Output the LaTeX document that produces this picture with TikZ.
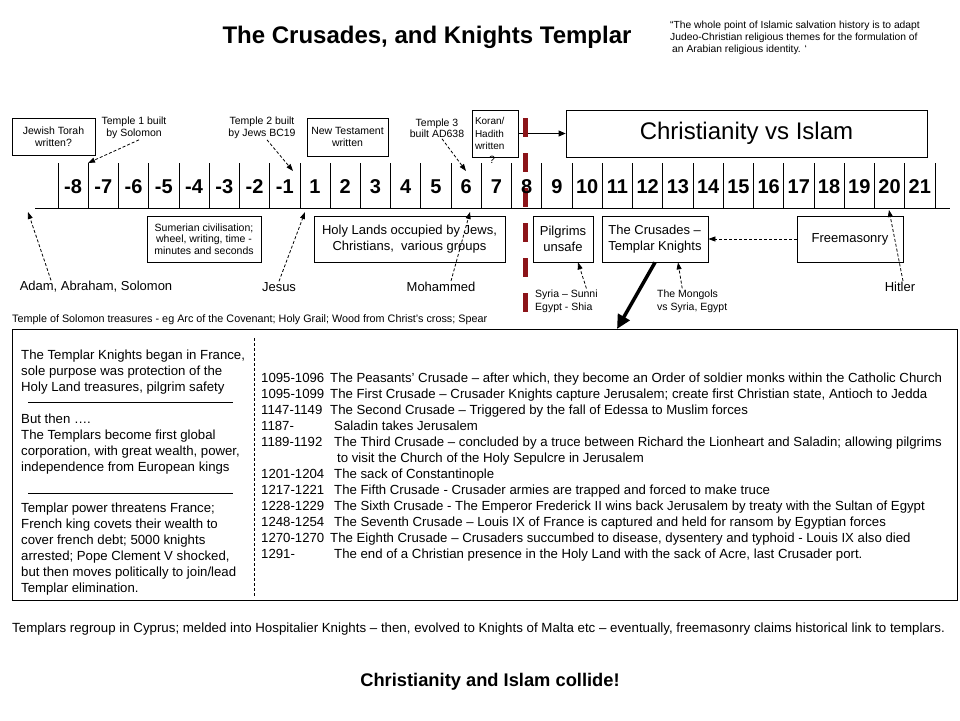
\documentclass[tikz,border=0pt]{standalone}
\usepackage{fontspec}
\setmainfont{Liberation Sans}
\usetikzlibrary{arrows.meta}
\definecolor{divred}{RGB}{140,20,25}
\tikzset{
  box/.style={draw, line width=0.8pt, inner sep=1pt},
  note/.style={font=\fontsize{10.5}{11.5}\selectfont, align=center, inner sep=1pt},
  boxtext/.style={font=\fontsize{13}{15.5}\selectfont},
  who/.style={font=\fontsize{13}{15}\selectfont, inner sep=1pt},
  yearlab/.style={font=\fontsize{20}{22}\selectfont\bfseries, inner sep=0pt},
  body/.style={font=\fontsize{13.2}{16}\selectfont, align=left, anchor=west, inner sep=0pt},
  row/.style={font=\fontsize{13.2}{15}\selectfont, anchor=base west, inner sep=0pt},
  hint/.style={line width=0.8pt, dash pattern=on 3pt off 2pt, -{Triangle[length=7pt,width=5pt]}},
}
\begin{document}
\begin{tikzpicture}[x=1pt,y=-1pt]
	\useasboundingbox (0,0) rectangle (960,720);

	% headings
	\node[font=\fontsize{24}{28}\selectfont\bfseries] (title) at (427,37) {The Crusades, and Knights Templar};
	\node[font=\fontsize{10.3}{12}\selectfont, align=left, anchor=north west, inner sep=0pt] (quote) at (670,21) {“The whole point of Islamic salvation history is to adapt\\Judeo-Christian religious themes for the formulation of\\\hspace{2pt}an Arabian religious identity. ‘};

	% above the time line
	\node[box, note, minimum width=83, minimum height=37] (torah) at (53.5,136.5) {Jewish Torah\\written?};
	\node[note] (temple1) at (134,128) {Temple 1 built\\by Solomon};
	\node[note] (temple2) at (262,128) {Temple 2 built\\by Jews BC19};
	\node[box, note, minimum width=81, minimum height=38] (newtest) at (347.5,137) {New Testament\\written};
	\node[note] (temple3) at (437,128) {Temple 3\\built AD638};
	\node[box, note, font=\fontsize{10}{12.5}\selectfont, align=left, text width=40, minimum width=46, minimum height=47] (koran) at (495,133.5) {Koran/\\Hadith\\written};
	\node[note] (koranq) at (492,160) {?};
	\node[box, font=\fontsize{24}{28}\selectfont, minimum width=361, minimum height=47] (christ) at (746.5,133.5) {Christianity vs Islam};

	\draw[line width=0.8pt, -{Triangle[length=7pt,width=6pt]}] (koran.east) -- (christ.west);
	\draw[divred, line width=5pt, dash pattern=on 19pt off 16pt] (525,118) -- (525,313);

	% time line
	\draw[line width=0.8pt] (35,208) -- (950,208);
	\foreach \k in {0,...,29}
		\draw[line width=0.8pt] (58+30.24*\k,163) -- (58+30.24*\k,208);
	\foreach \lab [count=\i from 0] in {-8,-7,-6,-5,-4,-3,-2,-1,1,2,3,4,5,6,7,8,9,10,11,12,13,14,15,16,17,18,19,20,21}
		\node[yearlab] (yr\i) at (73.1+30.24*\i,187) {\lab};

	\coordinate (t7) at (88,163);
	\coordinate (t2) at (293,171);
	\coordinate (t3) at (466,171);
	\draw[hint] ([xshift=5pt]temple1.south) -- (t7);
	\draw[hint] ([xshift=5pt]temple2.south) -- (t2);
	\draw[hint] ([xshift=5pt]temple3.south) -- (t3);

	% below the time line
	\node[box, note, minimum width=114, minimum height=46] (sumer) at (204,239) {Sumerian civilisation;\\wheel, writing, time -\\minutes and seconds};
	\node[box, boxtext, align=center, minimum width=191, minimum height=46] (holy) at (409.5,239) {Holy Lands occupied by Jews,\\Christians,\ \ various groups};
	\node[box, boxtext, align=center, minimum width=60, minimum height=46] (pilgrims) at (563,239) {Pilgrims\\unsafe};
	\node[box, boxtext, align=left, minimum width=106, minimum height=46] (crusades) at (655,239) {The Crusades –\\Templar Knights};
	\node[box, boxtext, minimum width=106, minimum height=46] (freemason) at (850,239) {Freemasonry};

	\node[who] (adam) at (96,287) {Adam, Abraham, Solomon};
	\node[who] (jesus) at (279,287) {Jesus};
	\node[who] (mohammed) at (441,287) {Mohammed};
	\node[who] (hitler) at (900,287) {Hitler};
	\node[note, font=\fontsize{10.5}{13}\selectfont, align=left, anchor=west] (syria) at (534,301) {Syria – Sunni\\Egypt - Shia};
	\node[note, font=\fontsize{10.5}{13}\selectfont, align=left, anchor=west] (mongols) at (656,301) {The Mongols\\vs Syria, Egypt};
	\node[font=\fontsize{10.8}{12}\selectfont, anchor=west, inner sep=0pt] (treasure) at (12,320) {Temple of Solomon treasures - eg Arc of the Covenant; Holy Grail; Wood from Christ’s cross; Spear};

	\coordinate (adamtip) at (28,212);
	\coordinate (jesustip) at (305,212);
	\coordinate (mohtip) at (470,212);
	\coordinate (hitlertip) at (889,210);
	\coordinate (hit) at (617,329);
	\draw[hint] ([xshift=-45pt]adam.north) -- (adamtip);
	\draw[hint] (jesus.north) -- (jesustip);
	\draw[hint] ([xshift=10pt]mohammed.north) -- (mohtip);
	\draw[hint] ([xshift=3pt]hitler.north) -- (hitlertip);
	\draw[hint] ([xshift=20pt]syria.north) -- ([xshift=15pt]pilgrims.south);
	\draw[hint] ([xshift=-10pt]mongols.north) -- ([xshift=23pt]crusades.south);
	\draw[hint] (freemason.west) -- (crusades.east);
	\draw[line width=3.5pt, -{Triangle[length=14pt,width=13pt]}] (crusades.south) -- (hit);

	% the panel
	\node[draw, line width=0.8pt, minimum width=945, minimum height=271, inner sep=0pt] (panel) at (484.5,464.5) {};
	\draw[dash pattern=on 3pt off 2pt] (254,338) -- (254,597);

	\node[body] (began) at (21,372) {The Templar Knights began in France,\\sole purpose was protection of the\\Holy Land treasures,\ pilgrim safety};
	\draw (28,402) -- (233,402);
	\node[body] (butthen) at (21,444) {But then ….\\The Templars\ become first global\\corporation, with great wealth, power,\\independence from European kings};
	\draw (28,493) -- (233,493);
	\node[body] (threat) at (21,549.5) {Templar power threatens France;\\French king covets their wealth to\\cover french debt; 5000 knights\\arrested; Pope Clement V shocked,\\but then moves politically to join/lead\\Templar elimination.};

	\node[row] (d1) at (261,382.5) {1095-1096};
	\node[row] (e1) at (330,382.5) {The Peasants’ Crusade – after which, they become an Order of soldier monks within the Catholic Church};
	\node[row] (d2) at (261,398.5) {1095-1099};
	\node[row] (e2) at (330,398.5) {The First Crusade – Crusader Knights capture Jerusalem; create first Christian state, Antioch to Jedda};
	\node[row] (d3) at (261,414.5) {1147-1149};
	\node[row] (e3) at (330,414.5) {The Second Crusade – Triggered by the fall of Edessa to Muslim forces};
	\node[row] (d4) at (261,430.5) {1187-};
	\node[row] (e4) at (334,430.5) {Saladin takes Jerusalem};
	\node[row] (d5) at (261,446.5) {1189-1192};
	\node[row] (e5) at (334,446.5) {The Third Crusade – concluded by a truce between Richard the Lionheart and Saladin; allowing pilgrims};
	\node[row] (e5b) at (337,462.5) {to visit the Church of the Holy Sepulcre in Jerusalem};
	\node[row] (d6) at (261,478.5) {1201-1204};
	\node[row] (e6) at (334,478.5) {The sack of Constantinople};
	\node[row] (d7) at (261,494.5) {1217-1221};
	\node[row] (e7) at (334,494.5) {The Fifth Crusade - Crusader armies are trapped and forced to make truce};
	\node[row] (d8) at (261,510.5) {1228-1229};
	\node[row] (e8) at (334,510.5) {The Sixth Crusade - The Emperor Frederick II wins back Jerusalem by treaty with the Sultan of Egypt};
	\node[row] (d9) at (261,526.5) {1248-1254};
	\node[row] (e9) at (334,526.5) {The Seventh Crusade – Louis IX of France is captured and held for ransom by Egyptian forces};
	\node[row] (d10) at (261,542.5) {1270-1270};
	\node[row] (e10) at (330,542.5) {The Eighth Crusade – Crusaders succumbed to disease, dysentery and typhoid - Louis IX also died};
	\node[row] (d11) at (261,558.5) {1291-};
	\node[row] (e11) at (334,558.5) {The end of a Christian presence in the Holy Land with the sack of Acre, last Crusader port.};

	% footer
	\node[font=\fontsize{13.3}{15}\selectfont, anchor=west, inner sep=0pt] (cyprus) at (12,629) {Templars regroup in Cyprus; melded into Hospitalier Knights – then, evolved to Knights of Malta etc – eventually,\ freemasonry claims historical link to templars.};
	\node[font=\fontsize{18.3}{21}\selectfont\bfseries] (collide) at (490,682) {Christianity and Islam collide!};
\end{tikzpicture}
\end{document}
